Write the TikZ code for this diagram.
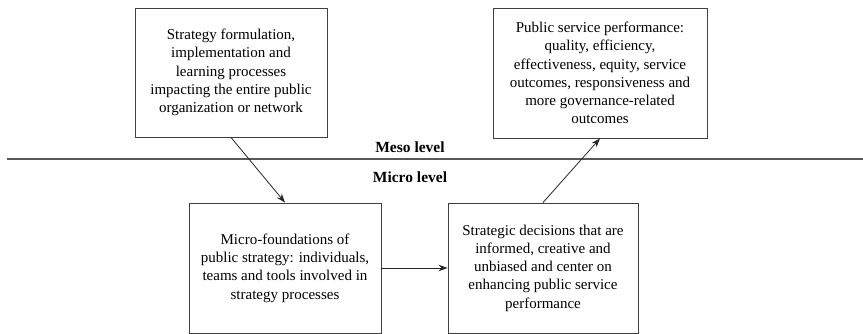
\documentclass[tikz,border=0pt]{standalone}
\usepackage{fontspec}
\setmainfont{Liberation Serif}
\usetikzlibrary{arrows.meta}
\begin{document}
\begin{tikzpicture}[x=1pt,y=-1pt,
  stagebox/.style={draw=black!75, line width=0.9pt, inner sep=0pt, align=center,
    font=\fontsize{15}{18.3}\selectfont},
  flow/.style={draw=black!85, line width=0.8pt, -{Stealth[length=9pt,width=6.5pt]}},
  levelname/.style={font=\bfseries\fontsize{15.5}{18}\selectfont, inner sep=0pt}]
\useasboundingbox (0,0) rectangle (863,334);

% level divider
\draw[black!65, line width=1.4pt] (7,159) -- (863,159);
\node[levelname] (meso) at (410,147) {Meso level};
\node[levelname] (micro) at (410,177) {Micro level};

% meso-level boxes
\node[stagebox, minimum width=192pt, minimum height=129pt] (strategy) at (231,72.5)
  {Strategy formulation,\\ implementation and\\ learning processes\\ impacting the entire public\\ organization or network};
\node[stagebox, minimum width=214pt, minimum height=130pt] (performance) at (600,73)
  {Public service performance:\\ quality, efficiency,\\ effectiveness, equity, service\\ outcomes, responsiveness and\\ more governance-related\\ outcomes};

% micro-level boxes
\node[stagebox, minimum width=192pt, minimum height=130pt] (foundations) at (285,268)
  {Micro-foundations of\\ public strategy: individuals,\\ teams and tools involved in\\ strategy processes};
\node[stagebox, minimum width=190pt, minimum height=130pt] (decisions) at (543,268)
  {Strategic decisions that are\\ informed, creative and\\ unbiased and center on\\ enhancing public service\\ performance};

% connectors
\draw[flow] (strategy.south) -- (foundations.north);
\draw[flow] (foundations.east) -- (decisions.west);
\draw[flow] (decisions.north) -- (performance.south);
\end{tikzpicture}
\end{document}
